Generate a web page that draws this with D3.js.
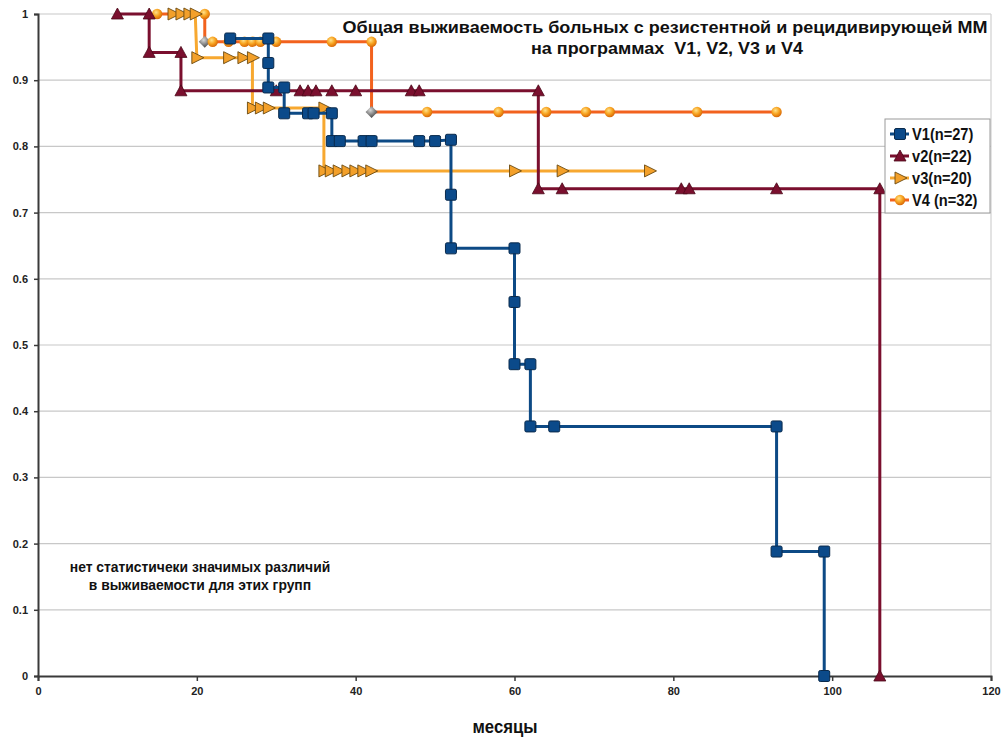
<!DOCTYPE html>
<html lang="ru">
<head>
<meta charset="UTF-8">
<title>Общая выживаемость</title>
<script src="https://cdn.jsdelivr.net/npm/d3@7"></script>
<style>
  body { margin: 0; background: #fff; }
  text { font-family: "Liberation Sans", Arial, sans-serif; white-space: pre; }
</style>
</head>
<body>
<div id="chart"></div>
<script>
// survival curves (months, share alive)
const v1X = [24.2, 29, 29, 29, 31, 31, 34, 34.7, 37, 37, 38, 41, 42, 48, 50, 52, 52, 52, 60, 60, 60, 62, 62, 65, 93, 93, 99, 99];
const v1Y = [0.963, 0.963, 0.926, 0.889, 0.889, 0.85, 0.85, 0.85, 0.85, 0.808, 0.808, 0.808, 0.808, 0.808, 0.808, 0.81, 0.727, 0.646, 0.646, 0.565, 0.471, 0.471, 0.377, 0.377, 0.377, 0.188, 0.188, 0];

const v2X = [10, 14, 14, 18, 18, 30, 33, 34, 35, 37, 40, 47, 48, 63, 63, 66, 81, 82, 93, 106, 106];
const v2Y = [1, 1, 0.942, 0.942, 0.884, 0.884, 0.884, 0.884, 0.884, 0.884, 0.884, 0.884, 0.884, 0.884, 0.736, 0.736, 0.736, 0.736, 0.736, 0.736, 0];

const v3X = [17, 18, 19, 19.8, 20, 24, 25.8, 27, 27, 28, 29, 36, 36, 36.8, 37.8, 38.9, 39.9, 40.9, 41.9, 60, 66, 77];
const v3Y = [1, 1, 1, 1, 0.934, 0.934, 0.934, 0.934, 0.858, 0.858, 0.858, 0.858, 0.763, 0.763, 0.763, 0.763, 0.763, 0.763, 0.763, 0.763, 0.763, 0.763];

const v4X = [15, 21, 21, 22, 24, 26, 27, 28, 30, 37, 42, 42, 49, 58, 64, 69, 72, 83, 93];
const v4Y = [1, 1, 0.958, 0.958, 0.958, 0.958, 0.958, 0.958, 0.958, 0.958, 0.958, 0.852, 0.852, 0.852, 0.852, 0.852, 0.852, 0.852, 0.852];
const v4Events = [2, 11]; // points drawn as grey diamonds

const seriesNames = ["V1(n=27)", "v2(n=22)", "v3(n=20)", "V4 (n=32)"];
const xTicks = [0, 20, 40, 60, 80, 100, 120];
const yTicks = [0, 0.1, 0.2, 0.3, 0.4, 0.5, 0.6, 0.7, 0.8, 0.9, 1];

const titleLines = ["Общая выживаемость больных с резистентной и рецидивирующей ММ", "на программах  V1, V2, V3 и V4"];
const noteLines = ["нет статистичеки значимых различий", "в выживаемости для этих групп"];
const xLabel = "месяцы";

const W = 1002, H = 740;
const plotL = 38, plotR = 991, plotT = 14, plotB = 676;

const svg = d3.select("#chart").append("svg").attr("width", W).attr("height", H);

const x = d3.scaleLinear().domain([0, 120]).range([plotL, plotR]);
const y = d3.scaleLinear().domain([0, 1]).range([plotB, plotT]);

// narrow the text a bit, the original uses a condensed face
function squeeze(sel, k) {
  sel.each(function() {
    const w = this.getComputedTextLength();
    d3.select(this).attr("textLength", w * k).attr("lengthAdjust", "spacingAndGlyphs");
  });
}

const defs = svg.append("defs");
const ball = defs.append("radialGradient").attr("id", "ball").attr("cx", "40%").attr("cy", "35%").attr("r", "65%");
ball.append("stop").attr("offset", "0%").attr("stop-color", "#ffe28a");
ball.append("stop").attr("offset", "55%").attr("stop-color", "#f7a21f");
ball.append("stop").attr("offset", "100%").attr("stop-color", "#d86a08");
const grey = defs.append("radialGradient").attr("id", "grey").attr("cx", "40%").attr("cy", "35%").attr("r", "70%");
grey.append("stop").attr("offset", "0%").attr("stop-color", "#d8d8d8");
grey.append("stop").attr("offset", "100%").attr("stop-color", "#3a3a3a");

// gridlines
svg.append("g").selectAll("line").data(yTicks.slice(1)).join("line")
  .attr("x1", plotL).attr("x2", plotR)
  .attr("y1", d => y(d)).attr("y2", d => y(d))
  .attr("stroke", "#c8c8c8").attr("stroke-width", 1.2);
svg.append("line").attr("x1", plotR).attr("x2", plotR).attr("y1", plotT).attr("y2", plotB)
  .attr("stroke", "#d0d0d0").attr("stroke-width", 1.2);

// axes
const yAxis = svg.append("g").attr("transform", `translate(${plotL},0)`)
  .call(d3.axisLeft(y).tickValues(yTicks).tickSize(4).tickPadding(6).tickFormat(d => d === 0 || d === 1 ? d3.format("d")(d) : d3.format(".1f")(d)));
const xAxis = svg.append("g").attr("transform", `translate(0,${plotB})`)
  .call(d3.axisBottom(x).tickValues(xTicks).tickSize(5).tickPadding(6));
[yAxis, xAxis].forEach(a => {
  a.select(".domain").attr("stroke", "#3a3a3a").attr("stroke-width", 2);
  a.selectAll(".tick line").attr("stroke", "#3a3a3a").attr("stroke-width", 1.5);
  a.selectAll("text").attr("font-family", "Liberation Sans, Arial, sans-serif")
    .attr("font-size", 11).attr("font-weight", "bold").attr("fill", "#222");
});

// series
const line = d3.line().x(d => x(d[0])).y(d => y(d[1]));
const zip = (xs, ys) => xs.map((v, i) => [v, ys[i]]);

const series = [
  {pts: zip(v4X, v4Y), color: "#f2621e", kind: "ball"},
  {pts: zip(v3X, v3Y), color: "#f7a830", kind: "right"},
  {pts: zip(v2X, v2Y), color: "#7a0f2e", kind: "tri"},
  {pts: zip(v1X, v1Y), color: "#0d4a85", kind: "square"}
];

function marker(g, kind) {
  if (kind === "square") {
    g.append("rect").attr("x", -5.5).attr("y", -5.5).attr("width", 11).attr("height", 11).attr("rx", 1.5)
      .attr("fill", "#0b4a8a").attr("stroke", "#0a2a4c").attr("stroke-width", 1);
  } else if (kind === "tri") {
    g.append("path").attr("d", "M0,-6L6,5L-6,5Z")
      .attr("fill", "#7a0f2e").attr("stroke", "#4a0818").attr("stroke-width", 0.8);
  } else if (kind === "right") {
    g.append("path").attr("d", "M-5,-6L7,0L-5,6Z")
      .attr("fill", "#f3a02a").attr("stroke", "#6b4a10").attr("stroke-width", 0.9);
  } else if (kind === "ball") {
    g.append("circle").attr("r", 5.2).attr("fill", "url(#ball)");
  } else if (kind === "diamond") {
    g.append("path").attr("d", "M0,-6L6,0L0,6L-6,0Z").attr("fill", "url(#grey)");
  }
}

series.forEach(s => {
  svg.append("path").datum(s.pts).attr("d", line)
    .attr("fill", "none").attr("stroke", s.color).attr("stroke-width", 3);
  s.pts.forEach((p, i) => {
    const g = svg.append("g").attr("transform", `translate(${x(p[0])},${y(p[1])})`);
    const k = s.kind === "ball" && v4Events.includes(i) ? "diamond" : s.kind;
    marker(g, k);
  });
});

// title
const titleX = [665, 667], titleY = [33, 54], titleW = [645, 272];
titleLines.forEach((t, i) => {
  svg.append("text").attr("x", titleX[i]).attr("y", titleY[i]).attr("text-anchor", "middle")
    .attr("font-size", 17).attr("font-weight", "bold").attr("fill", "#111")
    .attr("textLength", titleW[i]).attr("lengthAdjust", "spacingAndGlyphs")
    .text(t);
});

// legend
const lg = svg.append("g").attr("transform", "translate(885,119)");
lg.append("rect").attr("x", 0).attr("y", 0).attr("width", 105).attr("height", 94)
  .attr("fill", "#fff").attr("stroke", "#9a9a9a").attr("stroke-width", 1);
const legendKinds = [["square", "#0d4a85"], ["tri", "#7a0f2e"], ["right", "#f7a830"], ["ball", "#f2621e"]];
seriesNames.forEach((n, i) => {
  const cy = 15 + i * 22;
  lg.append("line").attr("x1", 5).attr("x2", 24).attr("y1", cy).attr("y2", cy)
    .attr("stroke", legendKinds[i][1]).attr("stroke-width", 3);
  marker(lg.append("g").attr("transform", `translate(15,${cy})`), legendKinds[i][0]);
  lg.append("text").attr("x", 27).attr("y", cy + 6).attr("font-size", 17).attr("font-weight", "bold")
    .attr("fill", "#111").text(n).call(squeeze, 0.86);
});

// note
noteLines.forEach((t, i) => {
  svg.append("text").attr("x", 200).attr("y", 572 + i * 18).attr("text-anchor", "middle")
    .attr("font-size", 14).attr("font-weight", "bold").attr("fill", "#111").text(t).call(squeeze, 0.99);
});

// x label
svg.append("text").attr("x", 505).attr("y", 733).attr("text-anchor", "middle")
  .attr("font-size", 18).attr("font-weight", "bold").attr("fill", "#111")
  .attr("textLength", 65).attr("lengthAdjust", "spacingAndGlyphs").text(xLabel);
</script>
</body>
</html>
